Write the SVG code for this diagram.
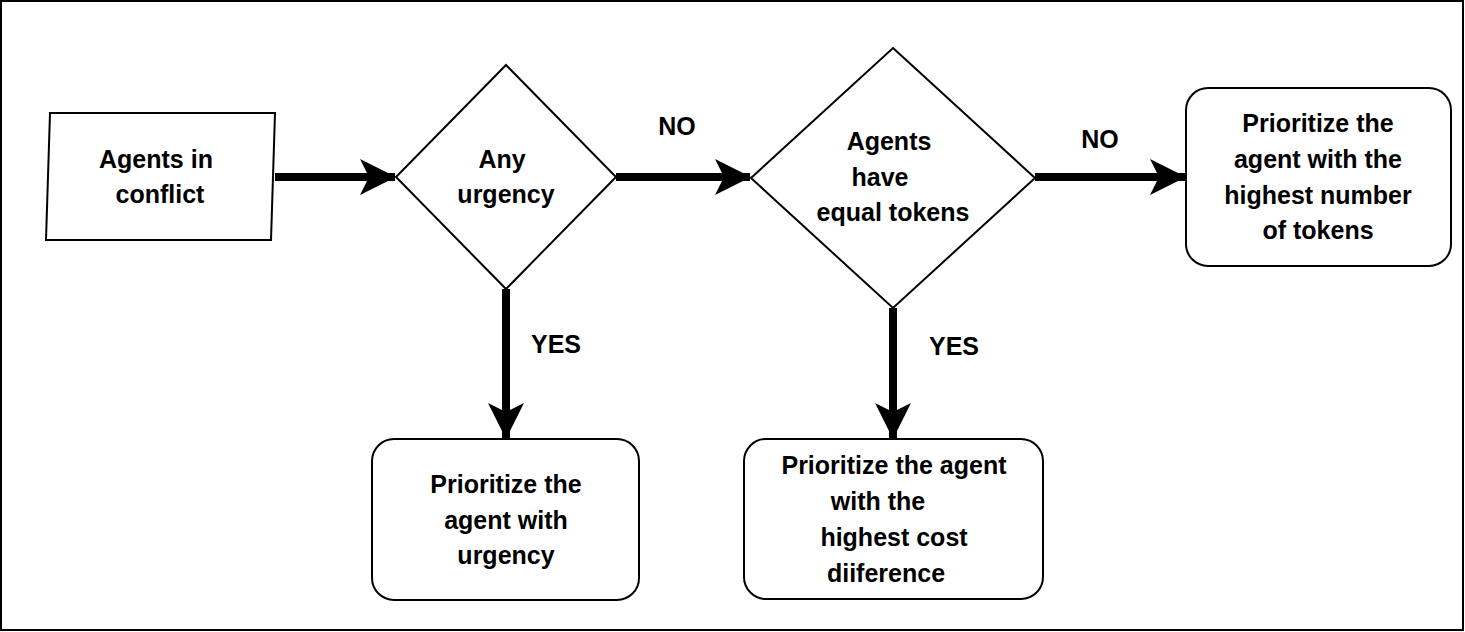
<svg xmlns="http://www.w3.org/2000/svg" width="1465" height="632" viewBox="0 0 1465 632">
<style>
.s{fill:#fff;stroke:#000;stroke-width:2}
text{font-family:"Liberation Sans",Arial,sans-serif;font-weight:bold;font-size:25px;text-anchor:middle;fill:#000}
.c line{stroke:#000;stroke-width:8}
</style>
<defs><marker id="a" markerUnits="userSpaceOnUse" markerWidth="36" markerHeight="36" refX="35" refY="18" orient="auto"><path d="M0,0L36,18L0,36L9,18Z" fill="#000"/></marker></defs>
<rect x="1" y="1" width="1462" height="629" fill="#fff" stroke="#000" stroke-width="2"/>
<g id="start"><path class="s" d="M50,113H275L271,240H46Z"/><text x="156" y="168">Agents in</text><text x="160" y="203">conflict</text></g>
<g id="urgency"><path class="s" d="M506,65L616,177L506,289L396,177Z"/><text x="502" y="168">Any</text><text x="506" y="203">urgency</text></g>
<g id="equal"><path class="s" d="M893,48L1035,178L893,308L751,178Z"/><text x="889" y="150">Agents</text><text x="880" y="186">have</text><text x="893" y="221">equal tokens</text></g>
<g id="tokens"><rect class="s" x="1186" y="88" width="265" height="178" rx="22"/><text x="1318" y="132">Prioritize the</text><text x="1318" y="168">agent with the</text><text x="1318" y="204">highest number</text><text x="1318" y="239">of tokens</text></g>
<g id="urg"><rect class="s" x="372" y="439" width="267" height="161" rx="22"/><text x="506" y="493">Prioritize the</text><text x="506" y="529">agent with</text><text x="506" y="564">urgency</text></g>
<g id="cost"><rect class="s" x="744" y="439" width="299" height="160" rx="22"/><text x="894" y="474">Prioritize the agent</text><text x="878" y="510">with the</text><text x="894" y="546">highest cost</text><text x="886" y="582">diiference</text></g>
<g class="c">
<line x1="275" y1="177" x2="395" y2="177" marker-end="url(#a)"/>
<line x1="616" y1="177" x2="750" y2="177" marker-end="url(#a)"/>
<line x1="1035" y1="177" x2="1185" y2="177" marker-end="url(#a)"/>
<line x1="506" y1="289" x2="506" y2="438" marker-end="url(#a)"/>
<line x1="893" y1="308" x2="893" y2="438" marker-end="url(#a)"/>
<text x="677" y="135">NO</text><text x="1100" y="148">NO</text><text x="556" y="353">YES</text><text x="954" y="355">YES</text>
</g>
</svg>
